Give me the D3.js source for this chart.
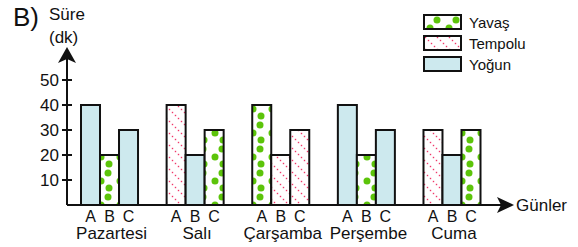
<script src="https://cdnjs.cloudflare.com/ajax/libs/d3/7.8.5/d3.min.js"></script>
<style>
body { margin: 0; background: #fff; }
svg { font-family: "Liberation Sans", Arial, sans-serif; }
</style>
<svg id="chart" width="578" height="247"></svg>
<script>
// data
var days = ["Pazartesi", "Salı", "Çarşamba", "Perşembe", "Cuma"];
var subs = ["A", "B", "C"];
var values = [[40, 20, 30], [40, 20, 30], [40, 20, 30], [40, 20, 30], [30, 20, 30]];
var kinds = [
  ["Yoğun", "Yavaş", "Yoğun"],
  ["Tempolu", "Yoğun", "Yavaş"],
  ["Yavaş", "Tempolu", "Tempolu"],
  ["Yoğun", "Yavaş", "Yoğun"],
  ["Tempolu", "Yoğun", "Yavaş"]
];
var legendItems = ["Yavaş", "Tempolu", "Yoğun"];
var yTicks = [10, 20, 30, 40, 50];

var svg = d3.select('#chart');
var defs = svg.append('defs');

// green dots pattern
var pDots = defs.append('pattern')
  .attr('id', 'dots').attr('patternUnits', 'userSpaceOnUse')
  .attr('width', 19).attr('height', 24);
pDots.append('rect').attr('width', 19).attr('height', 24).attr('fill', '#fff');
[[13, 5], [6, 13], [14, 20]].forEach(function(p) {
  pDots.append('circle').attr('cx', p[0]).attr('cy', p[1]).attr('r', 3.5).attr('fill', '#5cc40a');
});

// red dotted diagonals
var pDiag = defs.append('pattern')
  .attr('id', 'diag').attr('patternUnits', 'userSpaceOnUse')
  .attr('width', 12).attr('height', 12);
pDiag.append('rect').attr('width', 12).attr('height', 12).attr('fill', '#fff');
[[1.5, 1.5], [4.5, 4.5], [7.5, 7.5], [10.5, 10.5]].forEach(function(p) {
  pDiag.append('rect').attr('x', p[0] - 0.7).attr('y', p[1] - 0.7)
    .attr('width', 1.4).attr('height', 1.4).attr('fill', '#f0386a');
});

var fills = { "Yavaş": "url(#dots)", "Tempolu": "url(#diag)", "Yoğun": "#cde9ee" };

var x = d3.scaleBand().domain(days).range([81, 480.5]).paddingInner(0.334).paddingOuter(0);
var xs = d3.scaleBand().domain(subs).range([0, x.bandwidth()]).padding(0);
var y = d3.scaleLinear().domain([0, 50]).range([205, 80]);

var rows = [];
days.forEach(function(d, i) {
  subs.forEach(function(s, j) {
    rows.push({ day: d, sub: s, v: values[i][j], kind: kinds[i][j] });
  });
});

// bars
svg.append('g').selectAll('rect')
  .data(rows)
  .enter().append('rect')
  .attr('x', function(d) { return x(d.day) + xs(d.sub); })
  .attr('y', function(d) { return y(d.v); })
  .attr('width', xs.bandwidth())
  .attr('height', function(d) { return y(0) - y(d.v); })
  .attr('fill', function(d) { return fills[d.kind]; })
  .attr('stroke', '#111')
  .attr('stroke-width', 2);

// axes
var ax = svg.append('g').attr('stroke', '#111').attr('stroke-width', 2);
ax.append('line').attr('x1', 67).attr('y1', y(0)).attr('x2', 67).attr('y2', 58);
ax.append('line').attr('x1', 67).attr('y1', y(0)).attr('x2', 505).attr('y2', y(0));
svg.append('path').attr('fill', '#111')
  .attr('d', 'M67,47 L76,63 L67,59 L58,63 Z');
svg.append('path').attr('fill', '#111')
  .attr('d', 'M514,' + y(0) + ' L497,' + (y(0) - 8) + ' L501,' + y(0) + ' L497,' + (y(0) + 8) + ' Z');

ax.selectAll('.tick').data(yTicks).enter().append('line')
  .attr('x1', 62).attr('x2', 72)
  .attr('y1', function(d) { return y(d); }).attr('y2', function(d) { return y(d); });

svg.append('g').selectAll('text').data(yTicks).enter().append('text')
  .attr('x', 59).attr('y', function(d) { return y(d) + 6; })
  .attr('text-anchor', 'end').attr('font-size', 17).attr('fill', '#111')
  .text(function(d) { return d; });

// x labels
svg.append('g').selectAll('text').data(rows).enter().append('text')
  .attr('x', function(d) { return x(d.day) + xs(d.sub) + xs.bandwidth() / 2; })
  .attr('y', 222).attr('text-anchor', 'middle').attr('font-size', 16).attr('fill', '#111')
  .text(function(d) { return d.sub; });

svg.append('g').selectAll('text').data(days).enter().append('text')
  .attr('x', function(d) { return x(d) + x.bandwidth() / 2 + 2; })
  .attr('y', 239).attr('text-anchor', 'middle').attr('font-size', 17).attr('fill', '#111')
  .text(function(d) { return d; });

svg.append('text').attr('x', 516).attr('y', 211).attr('font-size', 17).attr('fill', '#111').text('Günler');
svg.append('text').attr('x', 49).attr('y', 20).attr('font-size', 17).attr('fill', '#111').text('Süre');
svg.append('text').attr('x', 49).attr('y', 43).attr('font-size', 17).attr('fill', '#111').text('(dk)');
svg.append('text').attr('x', 13).attr('y', 26).attr('font-size', 26).attr('fill', '#111').text('B)');

// legend
var leg = svg.append('g').selectAll('g').data(legendItems).enter().append('g')
  .attr('transform', function(d, i) { return 'translate(424,' + (15 + i * 21) + ')'; });
leg.append('rect').attr('width', 37).attr('height', 14)
  .attr('fill', function(d) { return fills[d]; })
  .attr('stroke', '#111').attr('stroke-width', 2);
leg.append('text').attr('x', 45).attr('y', 13).attr('font-size', 15).attr('fill', '#111')
  .text(function(d) { return d; });
</script>
